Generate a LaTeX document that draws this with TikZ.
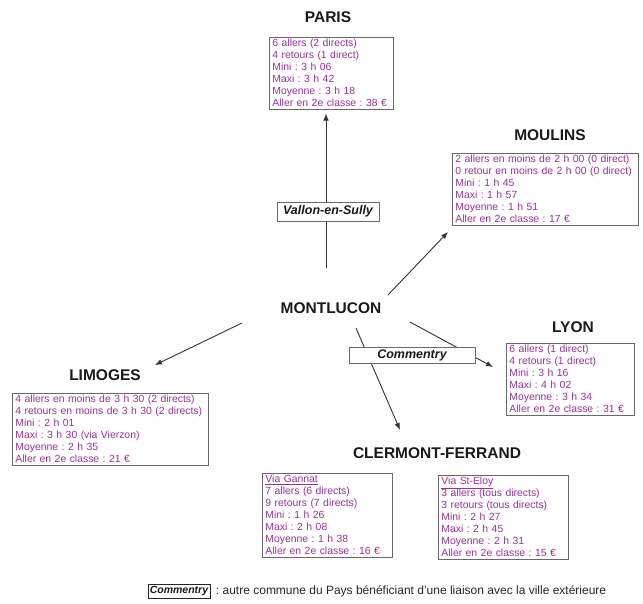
\documentclass[tikz,border=0pt]{standalone}
\usepackage{fontspec}
\setmainfont{Liberation Sans}
\usetikzlibrary{arrows.meta}
\definecolor{boxtext}{RGB}{150,50,150}
\definecolor{boxline}{RGB}{105,105,105}
\frenchspacing

\begin{document}
\begin{tikzpicture}[x=1pt,y=-1pt,
  ville/.style={font=\fontsize{15.5}{18}\selectfont\bfseries, text=black!90},
  infobox/.style={draw=boxline, line width=0.9pt, anchor=north west, align=left,
    inner xsep=3pt, inner ysep=2pt, text=boxtext, font=\fontsize{10.4}{12}\selectfont},
  viabox/.style={draw=boxline, line width=0.9pt, fill=white, inner sep=0pt,
    text=black!90, font=\fontsize{12.5}{14}\selectfont\bfseries\itshape},
  liaison/.style={draw=black!80, line width=0.9pt, -{Latex[length=7pt,width=5.5pt]}}]
  \useasboundingbox (0,0) rectangle (643,603);

  % villes
  \node[ville] (montlucon) at (331,308) {MONTLUCON};
  \node[ville] (paris) at (328,17) {PARIS};
  \node[ville] (moulins) at (550,135) {MOULINS};
  \node[ville] (lyon) at (573,327) {LYON};
  \node[ville] (limoges) at (105,375) {LIMOGES};
  \node[ville] (clermont) at (437,453) {CLERMONT-FERRAND};

  % horaires
  \node[infobox, text width=118pt] (parisinfo) at (269,37)
    {6 allers (2 directs)\\4 retours (1 direct)\\Mini : 3 h 06\\Maxi : 3 h 42\\Moyenne : 3 h 18\\Aller en 2e classe : 38 €};
  \node[infobox, text width=180pt] (moulinsinfo) at (452,153)
    {2 allers en moins de 2 h 00 (0 direct)\\0 retour en moins de 2 h 00 (0 direct)\\Mini : 1 h 45\\Maxi : 1 h 57\\Moyenne : 1 h 51\\Aller en 2e classe : 17 €};
  \node[infobox, text width=122pt] (lyoninfo) at (506,343)
    {6 allers (1 direct)\\4 retours (1 direct)\\Mini : 3 h 16\\Maxi : 4 h 02\\Moyenne : 3 h 34\\Aller en 2e classe : 31 €};
  \node[infobox, text width=190pt] (limogesinfo) at (12,393)
    {4 allers en moins de 3 h 30 (2 directs)\\4 retours en moins de 3 h 30 (2 directs)\\Mini : 2 h 01\\Maxi : 3 h 30 (via Vierzon)\\Moyenne : 2 h 35\\Aller en 2e classe : 21 €};
  \node[infobox, text width=124pt] (gannatinfo) at (262,473)
    {\underline{Via Gannat}\\7 allers (6 directs)\\9 retours (7 directs)\\Mini : 1 h 26\\Maxi : 2 h 08\\Moyenne : 1 h 38\\Aller en 2e classe : 16 €};
  \node[infobox, text width=124pt] (eloyinfo) at (438,475)
    {\underline{Via St-Eloy}\\3 allers (tous directs)\\3 retours (tous directs)\\Mini : 2 h 27\\Maxi : 2 h 45\\Moyenne : 2 h 31\\Aller en 2e classe : 15 €};

  % liaisons
  \coordinate (mlParis) at (326,268);
  \coordinate (mlMoulins) at (388,295);
  \coordinate (mlLyon) at (410,322);
  \coordinate (mlClermont) at (356,328);
  \coordinate (mlLimoges) at (242,323);
  \coordinate (toMoulins) at (448,232);
  \coordinate (toLyon) at (493,367);
  \coordinate (toClermont) at (400,430);
  \coordinate (toLimoges) at (155,365);
  \draw[liaison, shorten >=4pt] (mlParis) -- (mlParis |- parisinfo.south);
  \draw[liaison] (mlMoulins) -- (toMoulins);
  \draw[liaison] (mlLyon) -- (toLyon);
  \draw[liaison] (mlClermont) -- (toClermont);
  \draw[liaison] (mlLimoges) -- (toLimoges);

  % communes relais
  \node[viabox, minimum width=102pt, minimum height=19pt] (vallon) at (328,211.5) {Vallon-en-Sully};
  \node[viabox, minimum width=126pt, minimum height=16pt] (commentry) at (412,355) {Commentry};

  % legende
  \node[viabox, draw=black!85, font=\fontsize{10.5}{12}\selectfont\bfseries\itshape,
    minimum width=62pt, minimum height=14pt] (legcomm) at (179,591) {Commentry};
  \node[anchor=west, xshift=2pt, font=\fontsize{12}{14}\selectfont, text=black!85] (legtext)
    at (legcomm.east) {: autre commune du Pays bénéficiant d'une liaison avec la ville extérieure};
\end{tikzpicture}
\end{document}
